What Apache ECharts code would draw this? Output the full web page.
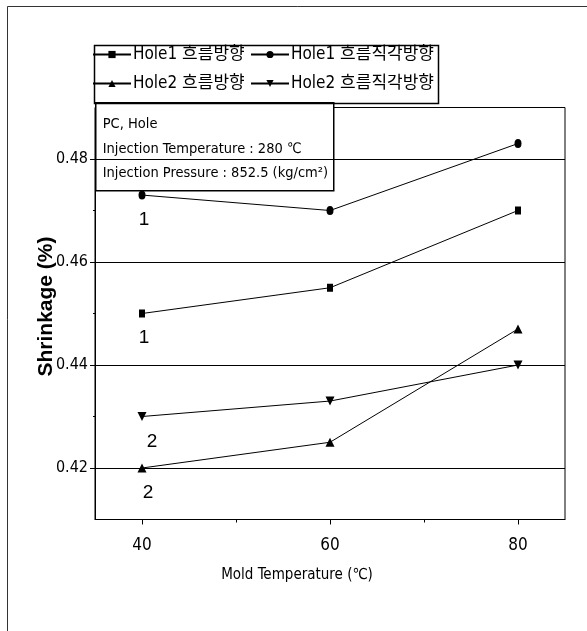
<!DOCTYPE html>
<html>
<head>
<meta charset="utf-8">
<script src="https://cdn.jsdelivr.net/npm/echarts@6/dist/echarts.min.js"></script>
<style>html,body{margin:0;padding:0;background:#fff;}#c{width:587px;height:631px;}</style>
</head>
<body>
<div id="c"></div>
<script>
// ---- data ----
var temps = [40, 60, 80];
var hole1Flow = [0.450, 0.455, 0.470];
var hole1Cross = [0.473, 0.470, 0.483];
var hole2Flow = [0.420, 0.425, 0.447];
var hole2Cross = [0.430, 0.433, 0.440];
var seriesNames = ['Hole1 흐름방향', 'Hole1 흐름직각방향', 'Hole2 흐름방향', 'Hole2 흐름직각방향'];
var pointTags = ['1', '1', '2', '2'];
var xTickLabels = [40, 60, 80];
var xMinorTicks = [50, 70];
var yTickLabels = [0.42, 0.44, 0.46, 0.48];
var yMinorTicks = [0.43, 0.45, 0.47];
var noteLines = ['PC, Hole', 'Injection Temperature : 280 ℃', 'Injection Pressure : 852.5 (kg/cm²)'];

var NARROW = '"Liberation Sans Narrow", "DejaVu Sans Condensed", Arial, sans-serif';
var LEG = '"Liberation Sans Narrow", "DejaVu Sans Condensed", "Noto Sans CJK KR", sans-serif';

function build(vals, tag, dx) {
  return temps.map(function (t, i) {
    var d = { value: [t, vals[i]] };
    if (i === 0) {
      d.label = { show: true, formatter: tag, position: 'bottom', distance: 11, offset: [dx, 0],
        color: '#000', fontSize: 19, fontFamily: 'Arial, sans-serif' };
    }
    return d;
  });
}
var base = { type: 'line', xAxisIndex: 0, yAxisIndex: 0, lineStyle: { color: '#000', width: 1 },
  itemStyle: { color: '#000' }, showSymbol: true, animation: false, z: 3 };

var series = [
  Object.assign({}, base, { name: seriesNames[0], symbol: 'rect', symbolSize: [6, 8], data: build(hole1Flow, pointTags[0], 2),
    markLine: { silent: true, symbol: ['none', 'none'], label: { show: false },
      lineStyle: { color: '#000', width: 1, type: 'solid' }, animation: false,
      data: yTickLabels.map(function (v) { return { yAxis: v }; }) } }),
  Object.assign({}, base, { name: seriesNames[1], symbol: 'circle', symbolSize: [7, 9], data: build(hole1Cross, pointTags[1], 2) }),
  Object.assign({}, base, { name: seriesNames[2], symbol: 'triangle', symbolSize: [9, 9], data: build(hole2Flow, pointTags[2], 6) }),
  Object.assign({}, base, { name: seriesNames[3], symbol: 'triangle', symbolRotate: 180, symbolSize: [9, 9], data: build(hole2Cross, pointTags[3], 10) })
];

var legendCommon = { orient: 'vertical', itemWidth: 38, itemHeight: 9, itemGap: 12, padding: 0,
  textStyle: { color: '#000', fontSize: 17, fontFamily: LEG, padding: [0, 0, 0, -3] } };

var chart = echarts.init(document.getElementById('c'), null, { renderer: 'canvas' });
chart.setOption({
  animation: false,
  backgroundColor: '#fff',
  grid: { left: 95, right: 22, top: 107.5, bottom: 111.5, show: true, borderColor: '#000', borderWidth: 1, backgroundColor: 'transparent' },
  legend: [
    Object.assign({}, legendCommon, { left: 92, top: 46, data: [seriesNames[0], seriesNames[2]] }),
    Object.assign({}, legendCommon, { left: 250, top: 46, data: [seriesNames[1], seriesNames[3]] })
  ],
  xAxis: [
    { type: 'value', min: 35, max: 85, position: 'bottom',
      name: 'Mold Temperature (℃)', nameLocation: 'middle', nameGap: 48, nameMoveOverlap: false,
      nameTextStyle: { color: '#000', fontSize: 15, fontFamily: NARROW, padding: [0, 66, 0, 0] },
      axisLine: { show: true, lineStyle: { color: '#000', width: 1 } },
      axisTick: { show: true, length: 5, customValues: xTickLabels, lineStyle: { color: '#000' } },
      axisLabel: { customValues: xTickLabels, color: '#000', fontSize: 17, fontFamily: NARROW, margin: 18 },
      splitLine: { show: false } },
    { type: 'value', min: 35, max: 85, position: 'bottom',
      axisLine: { show: false },
      axisTick: { show: true, length: 3, customValues: xMinorTicks, lineStyle: { color: '#000' } },
      axisLabel: { show: false }, splitLine: { show: false } }
  ],
  yAxis: [
    { type: 'value', min: 0.41, max: 0.49, position: 'left',
      name: 'Shrinkage (%)', nameLocation: 'middle', nameGap: 38, nameRotate: 90, nameMoveOverlap: false,
      nameTextStyle: { color: '#000', fontSize: 21, fontWeight: 'bold', fontFamily: 'Arial, sans-serif', padding: [0, 0, 0, 14] },
      axisLine: { show: true, lineStyle: { color: '#000', width: 1 } },
      axisTick: { show: true, length: 5, customValues: yTickLabels, lineStyle: { color: '#000' } },
      axisLabel: { customValues: yTickLabels, color: '#000', fontSize: 16, fontFamily: NARROW, margin: 7,
        formatter: function (v) { return v.toFixed(2); } },
      splitLine: { show: false } },
    { type: 'value', min: 0.41, max: 0.49, position: 'left',
      axisLine: { show: false },
      axisTick: { show: true, length: 2, customValues: yMinorTicks, lineStyle: { color: '#000' } },
      axisLabel: { show: false }, splitLine: { show: false } }
  ],
  series: series,
  graphic: [
    { type: 'rect', left: 5, top: 4, shape: { width: 620, height: 700 }, style: { fill: 'none', stroke: '#333', lineWidth: 1 }, z: 0, silent: true },
    { type: 'rect', left: 92, top: 43, shape: { width: 344, height: 58 }, style: { fill: 'none', stroke: '#000', lineWidth: 1.5 }, z: 10, silent: true },
    { type: 'group', left: 95, top: 102, z: 20, children: [
      { type: 'rect', shape: { x: 0, y: 0, width: 238, height: 88 }, style: { fill: '#fff', stroke: '#000', lineWidth: 1.5 } },
      { type: 'text', x: 7, y: 21, style: { text: noteLines[0], fill: '#000', fontSize: 14.5, fontFamily: NARROW, verticalAlign: 'middle' } },
      { type: 'text', x: 7, y: 46, style: { text: noteLines[1], fill: '#000', fontSize: 14.5, fontFamily: NARROW, verticalAlign: 'middle' } },
      { type: 'text', x: 7, y: 70, style: { text: noteLines[2], fill: '#000', fontSize: 14.5, fontFamily: NARROW, verticalAlign: 'middle' } }
    ] }
  ]
});
</script>
</body>
</html>
